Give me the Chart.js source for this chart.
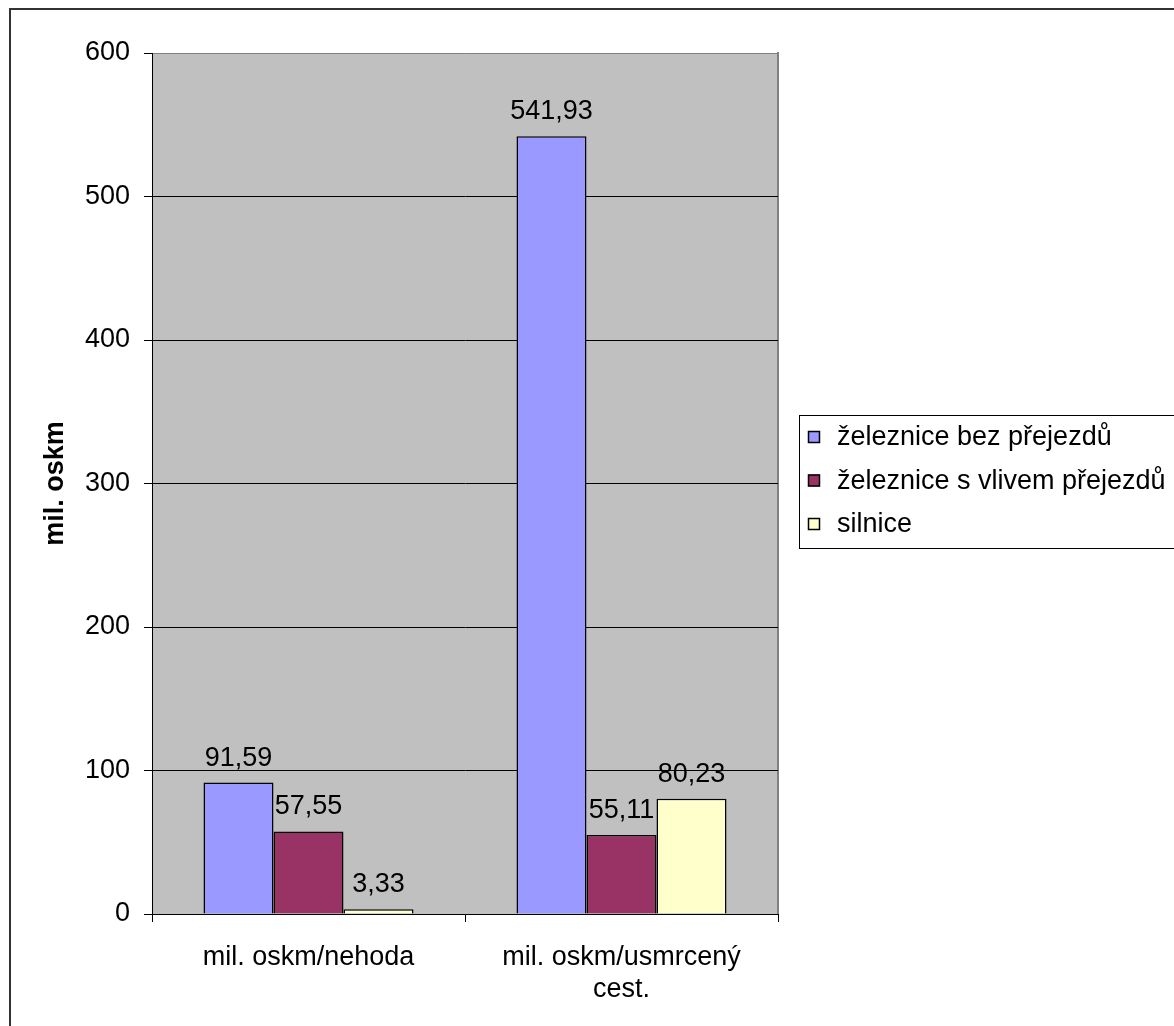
<!DOCTYPE html>
<html>
<head>
    <meta charset="utf-8">
    <script src="https://cdn.jsdelivr.net/npm/chart.js@4.4.0/dist/chart.umd.min.js"></script>
    <style>
        html, body { margin: 0; padding: 0; background: #fff; }
        #wrap { width: 1174px; height: 1026px; }
    </style>
</head>
<body>
<div id="wrap">
    <canvas id="bezpecnostChart" width="1174" height="1026"></canvas>
</div>

<script>
    const categories = ['mil. oskm/nehoda', ['mil. oskm/usmrcený', 'cest.']];
    const seriesNames = ['železnice bez přejezdů', 'železnice s vlivem přejezdů', 'silnice'];
    const bezPrejezdu = [91.59, 541.93];
    const sVlivemPrejezdu = [57.55, 55.11];
    const silnice = [3.33, 80.23];
    const yMax = 600;
    const yStep = 100;

    const FONT = '"Liberation Sans", Arial, sans-serif';
    const colors = ['#9999FF', '#993366', '#FFFFCC'];

    // gray plot area, outer frame
    const backgroundPlugin = {
        id: 'background',
        beforeDraw(chart) {
            const ctx = chart.ctx;
            const a = chart.chartArea;
            ctx.save();
            ctx.fillStyle = '#333333';
            ctx.fillRect(9, 8, 2, 1018);
            ctx.fillRect(9, 8, 1165, 2);
            ctx.fillStyle = '#C0C0C0';
            ctx.fillRect(a.left, a.top, a.right - a.left, a.bottom - a.top);
            ctx.fillStyle = '#808080';
            ctx.fillRect(a.right - 1, a.top - 1, 2, a.bottom - a.top + 1);
            ctx.restore();
        }
    };

    // value above each bar, e.g. "541,93"
    const valueLabels = {
        id: 'valueLabels',
        afterDatasetsDraw(chart) {
            const ctx = chart.ctx;
            ctx.save();
            ctx.font = '27px ' + FONT;
            ctx.fillStyle = '#000';
            ctx.textAlign = 'center';
            ctx.textBaseline = 'alphabetic';
            chart.data.datasets.forEach(function (ds, i) {
                chart.getDatasetMeta(i).data.forEach(function (bar, j) {
                    const txt = ds.data[j].toFixed(2).replace('.', ',');
                    ctx.fillText(txt, bar.x, bar.y - 17);
                });
            });
            ctx.restore();
        }
    };

    // boxed legend on the right
    const boxLegend = {
        id: 'boxLegend',
        afterDraw(chart) {
            const ctx = chart.ctx;
            ctx.save();
            ctx.fillStyle = '#fff';
            ctx.fillRect(799, 415, 400, 133);
            ctx.strokeStyle = '#000';
            ctx.lineWidth = 1;
            ctx.strokeRect(799.5, 415.5, 400, 133);
            ctx.font = '27px ' + FONT;
            ctx.textBaseline = 'middle';
            chart.data.datasets.forEach(function (ds, i) {
                const cy = 437 + i * 43.5;
                ctx.fillStyle = ds.backgroundColor;
                ctx.fillRect(808, cy - 6, 12, 12);
                ctx.strokeStyle = '#000';
                ctx.lineWidth = 1.5;
                ctx.strokeRect(808.5, cy - 5.5, 11, 11);
                ctx.fillStyle = '#000';
                ctx.fillText(ds.label, 837, cy + 1);
            });
            ctx.restore();
        }
    };

    const datasets = [bezPrejezdu, sVlivemPrejezdu, silnice].map(function (values, i) {
        return {
            label: seriesNames[i],
            data: values,
            backgroundColor: colors[i],
            borderColor: '#000',
            borderWidth: 1.5,
            categoryPercentage: 0.671,
            barPercentage: 1
        };
    });

    new Chart(document.getElementById('bezpecnostChart'), {
        type: 'bar',
        data: {
            labels: categories,
            datasets: datasets
        },
        options: {
            responsive: false,
            animation: false,
            devicePixelRatio: 1,
            layout: {
                padding: { left: 0, top: 53, right: 396, bottom: 0 }
            },
            plugins: {
                legend: { display: false },
                tooltip: { enabled: false }
            },
            scales: {
                x: {
                    afterFit(scale) { scale.height = 1026 - 914; },
                    grid: {
                        offset: true,
                        drawOnChartArea: false,
                        drawTicks: true,
                        tickLength: 8,
                        color: '#000'
                    },
                    border: { color: '#000', width: 1 },
                    ticks: {
                        color: '#000',
                        maxRotation: 0,
                        autoSkip: false,
                        padding: 19,
                        font: { family: FONT, size: 27, lineHeight: 1.2 }
                    }
                },
                y: {
                    min: 0,
                    max: yMax,
                    afterFit(scale) { scale.width = 152; },
                    grid: {
                        color: function (c) { return c.tick && c.tick.value === yMax ? '#808080' : '#000'; },
                        tickColor: '#000',
                        tickLength: 8,
                        lineWidth: 1
                    },
                    border: { color: '#000', width: 1 },
                    ticks: {
                        stepSize: yStep,
                        color: '#000',
                        padding: 14,
                        font: { family: FONT, size: 27 }
                    },
                    title: {
                        display: true,
                        text: 'mil. oskm',
                        color: '#000',
                        padding: { top: 39, bottom: 0 },
                        font: { family: FONT, size: 27, weight: 'bold' }
                    }
                }
            }
        },
        plugins: [backgroundPlugin, valueLabels, boxLegend]
    });
</script>

</body>
</html>
